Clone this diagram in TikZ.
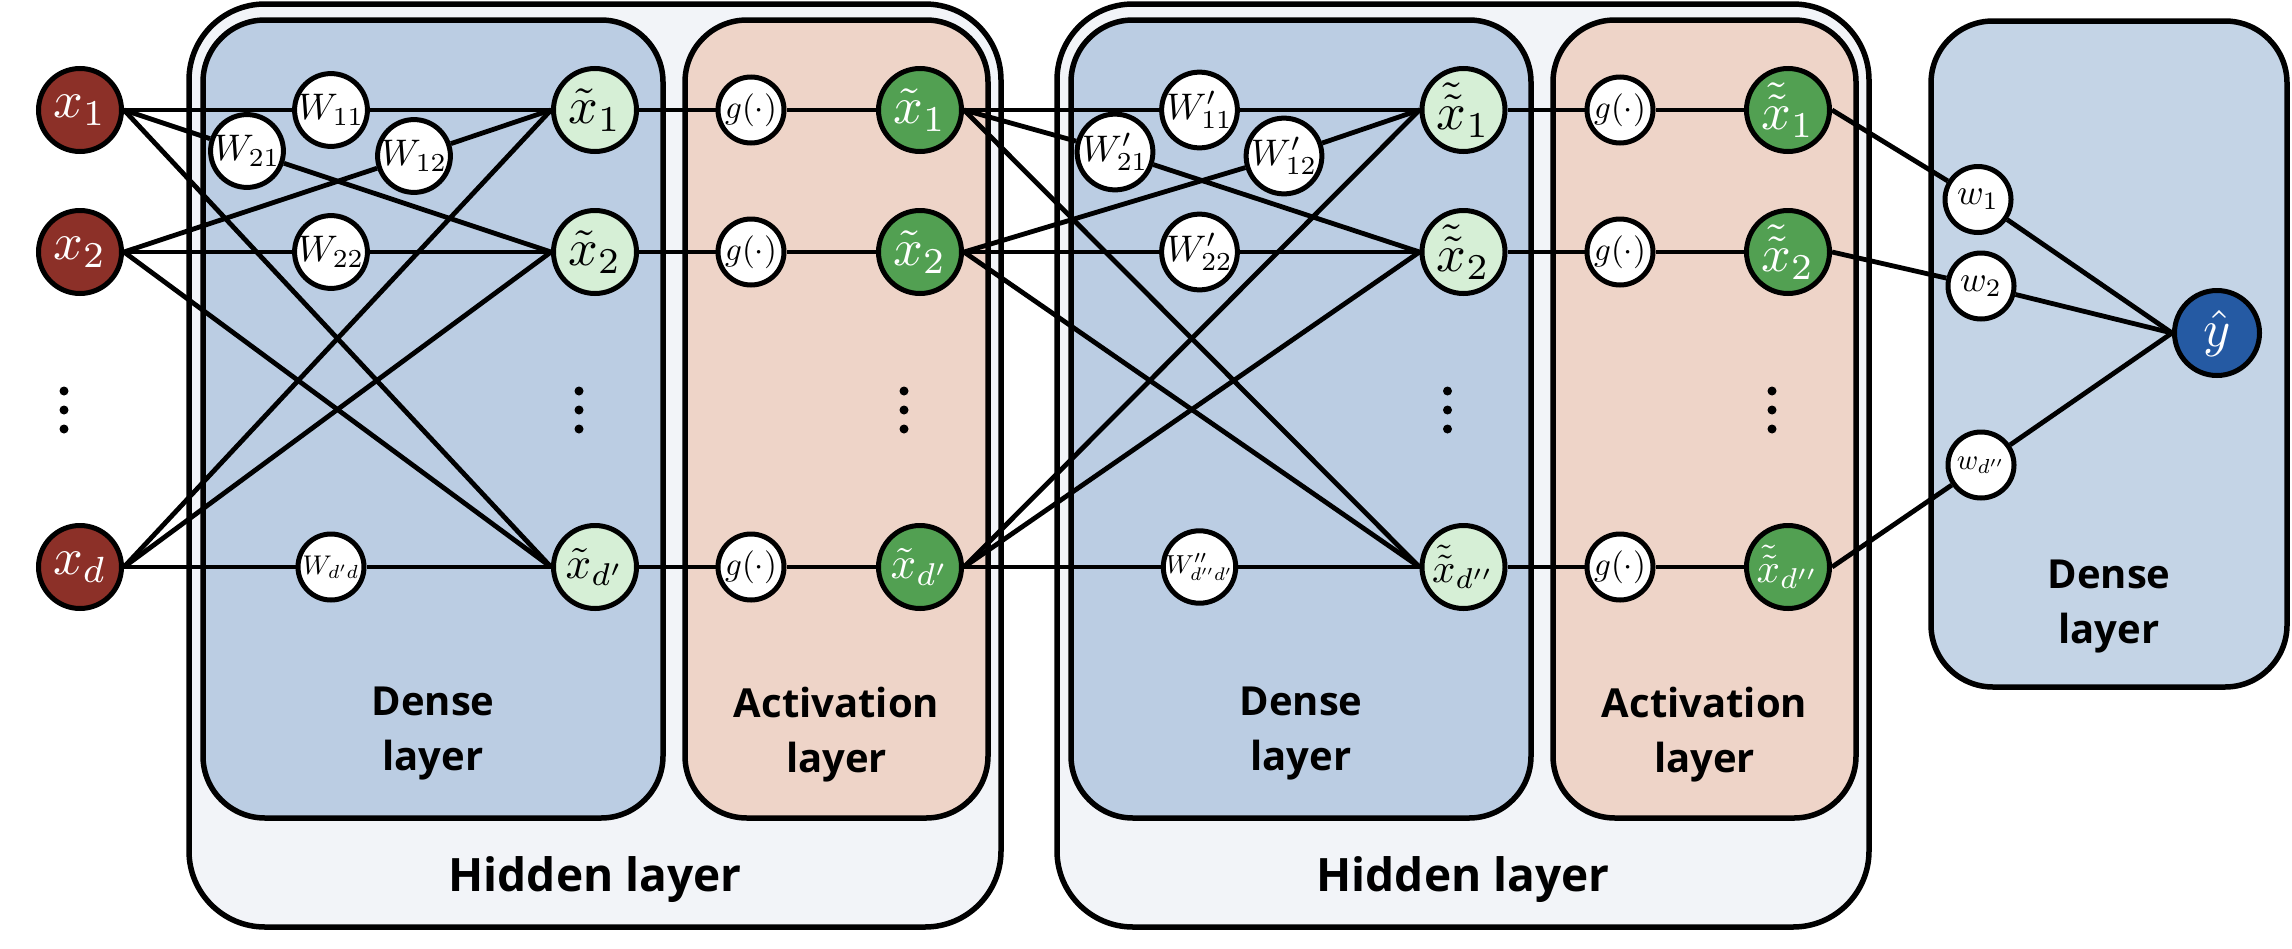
\documentclass[tikz,border=0pt]{standalone}
\usepackage{graphicx}
\usepackage{fontspec}
\newfontfamily\lblfont{Open Sans}
\newcommand\ml[2]{\scalebox{#1}{$#2$}}
\pgfdeclarelayer{boxes}
\pgfdeclarelayer{edges}
\pgfsetlayers{boxes,edges,main}
\definecolor{inred}{RGB}{140,48,40}
\definecolor{lgreen}{RGB}{214,239,214}
\definecolor{dgreen}{RGB}{82,160,82}
\definecolor{yblue}{RGB}{37,90,163}
\definecolor{densefill}{RGB}{187,205,227}
\definecolor{finalfill}{RGB}{196,212,230}
\definecolor{actfill}{RGB}{238,212,200}
\definecolor{hidfill}{RGB}{242,244,248}
\tikzset{
 bignode/.style={circle, draw=black, line width=5pt, inner sep=0pt, minimum size=83pt},
 inpnode/.style={bignode, fill=inred, text=white},
 hidnode/.style={bignode, fill=lgreen, text=black},
 actnode/.style={bignode, fill=dgreen, text=white},
 outnode/.style={bignode, fill=yblue, text=white, minimum size=85pt},
 wnode/.style={circle, draw=black, line width=5pt, fill=white, inner sep=0pt, minimum size=66pt},
 edge/.style={line width=4.8pt},
 hidbox/.style={draw=black, line width=5.5pt, fill=hidfill, rounded corners=76pt},
 densebox/.style={draw=black, line width=5.5pt, fill=densefill, rounded corners=62pt},
 actbox/.style={draw=black, line width=5.5pt, fill=actfill, rounded corners=62pt},
 finalbox/.style={draw=black, line width=5.5pt, fill=finalfill, rounded corners=62pt},
 boxlabel/.style={align=center, anchor=north, inner sep=0pt, font=\lblfont\bfseries\fontsize{40}{55}\selectfont},
 hidlabel/.style={anchor=base, inner sep=0pt, font=\lblfont\bfseries\fontsize{46}{50}\selectfont},
}
\begin{document}
\begin{tikzpicture}[x=1pt,y=-1pt]
\useasboundingbox (0,0) rectangle (2292,948);
\begin{pgfonlayer}{boxes}
\draw[hidbox] (189,4) rectangle (1001,927);
\draw[densebox] (203,20) rectangle (663,818);
\draw[actbox] (685,20) rectangle (988,818);
\draw[hidbox] (1057,4) rectangle (1869,927);
\draw[densebox] (1071,20) rectangle (1531,818);
\draw[actbox] (1553,20) rectangle (1856,818);
\draw[finalbox] (1931,21) rectangle (2287,687);
\end{pgfonlayer}
% box labels
\node[boxlabel] (lbD1) at (433,687) {Dense\\layer};
\node[boxlabel] (lbA1) at (836.5,687) {Activation\\layer};
\node[hidlabel] (lbH1) at (595,891) {Hidden layer};
\node[boxlabel] (lbD2) at (1301,687) {Dense\\layer};
\node[boxlabel] (lbA2) at (1704.5,687) {Activation\\layer};
\node[hidlabel] (lbH2) at (1463,891) {Hidden layer};
\node[boxlabel] (lbD3) at (2109,560) {Dense\\layer};
% inputs
\node[inpnode] (x1) at (80,110) {\ml{5.2}{x_1}};
\node[inpnode] (x2) at (80,252) {\ml{5.2}{x_2}};
\node[inpnode] (xd) at (80,567) {\ml{5.2}{x_d}};
% first dense layer
\node[wnode] (W21) at (247,151) {\ml{3.7}{W_{21}}};
\node[wnode] (W11) at (331,110) {\ml{3.7}{W_{11}}};
\node[wnode] (W12) at (414,156) {\ml{3.7}{W_{12}}};
\node[wnode] (W22) at (331,252) {\ml{3.7}{W_{22}}};
\node[wnode] (Wdd) at (331,567) {\ml{2.7}{W_{d'd}}};
\node[hidnode] (h1) at (595,110) {\ml{5.2}{\tilde{x}_1}};
\node[hidnode] (h2) at (595,252) {\ml{5.2}{\tilde{x}_2}};
\node[hidnode] (hd) at (595,567) {\ml{4.5}{\tilde{x}_{d'}}};
% first activation
\node[wnode] (g1) at (751,110) {\ml{3.3}{g(\cdot)}};
\node[wnode] (g2) at (751,252) {\ml{3.3}{g(\cdot)}};
\node[wnode] (gd) at (751,567) {\ml{3.3}{g(\cdot)}};
\node[actnode] (a1) at (920,110) {\ml{5.2}{\tilde{x}_1}};
\node[actnode] (a2) at (920,252) {\ml{5.2}{\tilde{x}_2}};
\node[actnode] (ad) at (920,567) {\ml{4.5}{\tilde{x}_{d'}}};
% second dense layer
\node[wnode] (V21) at (1115,152) {\ml{3.7}{W'_{21}}};
\node[wnode] (V11) at (1199.5,110) {\ml{3.7}{W'_{11}}};
\node[wnode] (V12) at (1284,156) {\ml{3.7}{W'_{12}}};
\node[wnode] (V22) at (1199.5,252) {\ml{3.7}{W'_{22}}};
\node[wnode] (Vdd) at (1199.5,567) {\ml{2.6}{W''_{d''d'}}};
\node[hidnode] (k1) at (1463.5,110) {\ml{5.2}{\tilde{\tilde{x}}_1}};
\node[hidnode] (k2) at (1463.5,252) {\ml{5.2}{\tilde{\tilde{x}}_2}};
\node[hidnode] (kd) at (1463.5,567) {\ml{4.1}{\tilde{\tilde{x}}_{d''}}};
% second activation
\node[wnode] (q1) at (1620,110) {\ml{3.3}{g(\cdot)}};
\node[wnode] (q2) at (1620,252) {\ml{3.3}{g(\cdot)}};
\node[wnode] (qd) at (1620,567) {\ml{3.3}{g(\cdot)}};
\node[actnode] (b1) at (1788,110) {\ml{5.2}{\tilde{\tilde{x}}_1}};
\node[actnode] (b2) at (1788,252) {\ml{5.2}{\tilde{\tilde{x}}_2}};
\node[actnode] (bd) at (1788,567) {\ml{4.1}{\tilde{\tilde{x}}_{d''}}};
% output dense layer
\node[wnode] (w1) at (1978,199.5) {\ml{3.6}{w_1}};
\node[wnode] (w2) at (1981,286) {\ml{3.6}{w_2}};
\node[wnode] (wd) at (1981,465) {\ml{2.9}{w_{d''}}};
\node[outnode] (y) at (2217,333) {\ml{5.2}{\hat{y}}};
% dots
\foreach \cx in {64,579,904,1447.5,1772}{
  \fill (\cx,391) circle (4.5pt);
  \fill (\cx,410) circle (4.5pt);
  \fill (\cx,429) circle (4.5pt);
}
\begin{pgfonlayer}{edges}
\draw[edge] (x1.east) -- (W11) -- (h1.west);
\draw[edge] (x1.east) -- (W21) -- (h2.west);
\draw[edge] (x2.east) -- (W12) -- (h1.west);
\draw[edge] (x2.east) -- (W22) -- (h2.west);
\draw[edge] (xd.east) -- (Wdd) -- (hd.west);
\draw[edge] (x1.east) -- (hd.west);
\draw[edge] (x2.east) -- (hd.west);
\draw[edge] (xd.east) -- (h1.west);
\draw[edge] (xd.east) -- (h2.west);
\draw[edge] (h1.east) -- (g1) -- (a1.west);
\draw[edge] (h2.east) -- (g2) -- (a2.west);
\draw[edge] (hd.east) -- (gd) -- (ad.west);
\draw[edge] (a1.east) -- (V11) -- (k1.west);
\draw[edge] (a1.east) -- (V21) -- (k2.west);
\draw[edge] (a2.east) -- (V12) -- (k1.west);
\draw[edge] (a2.east) -- (V22) -- (k2.west);
\draw[edge] (ad.east) -- (Vdd) -- (kd.west);
\draw[edge] (a1.east) -- (kd.west);
\draw[edge] (a2.east) -- (kd.west);
\draw[edge] (ad.east) -- (k1.west);
\draw[edge] (ad.east) -- (k2.west);
\draw[edge] (k1.east) -- (q1) -- (b1.west);
\draw[edge] (k2.east) -- (q2) -- (b2.west);
\draw[edge] (kd.east) -- (qd) -- (bd.west);
\draw[edge] (b1.east) -- (w1) -- (y.west);
\draw[edge] (b2.east) -- (w2) -- (y.west);
\draw[edge] (bd.east) -- (wd) -- (y.west);
\end{pgfonlayer}
\end{tikzpicture}
\end{document}
